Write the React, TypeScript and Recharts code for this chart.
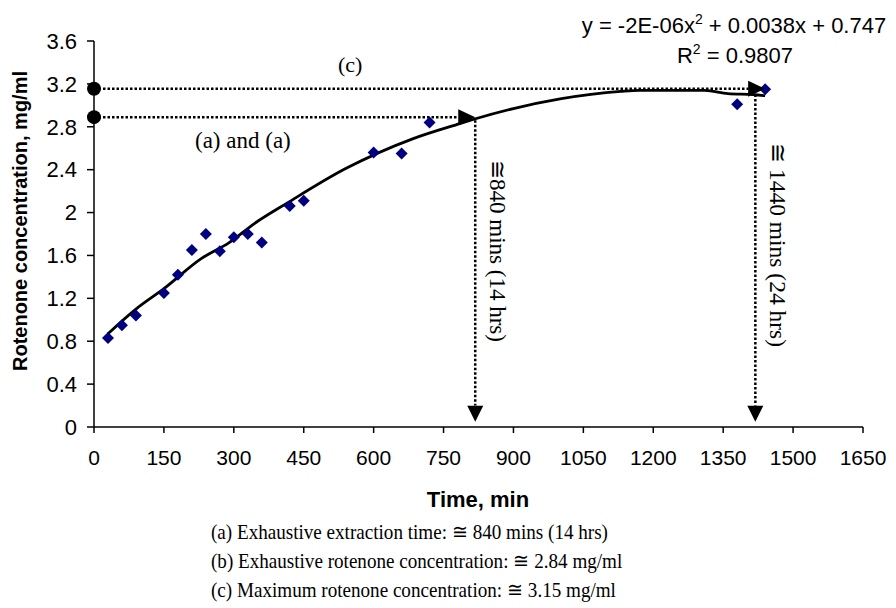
import { ComposedChart, XAxis, YAxis, Scatter, Line, ReferenceLine, ReferenceDot } from "recharts";

// measured points (time in min, rotenone in mg/ml)
const times = [30, 60, 90, 150, 180, 210, 240, 270, 300, 330, 360, 420, 450, 600, 660, 720, 1380, 1440];
const conc = [0.83, 0.95, 1.04, 1.25, 1.42, 1.65, 1.8, 1.64, 1.77, 1.8, 1.72, 2.06, 2.11, 2.56, 2.55, 2.84, 3.01, 3.15];

// polynomial trendline as drawn on the figure
const trendTimes = [30, 90, 150, 230, 290, 345, 415, 540, 685, 785, 815, 900, 1000, 1130, 1170, 1310, 1360, 1415, 1440];
const trendConc = [0.87, 1.1, 1.29, 1.57, 1.72, 1.9, 2.09, 2.41, 2.69, 2.83, 2.87, 2.97, 3.06, 3.13, 3.14, 3.14, 3.11, 3.1, 3.09];

const xTicks = [0, 150, 300, 450, 600, 750, 900, 1050, 1200, 1350, 1500, 1650];
const yTicks = [0, 0.4, 0.8, 1.2, 1.6, 2, 2.4, 2.8, 3.2, 3.6];

// annotation levels
const maxConc = 3.155;
const exhConc = 2.89;
const exhTime = 818;
const maxTime = 1419;
const maxArrowTip = 1440;

const notes = [
  "(a) Exhaustive extraction time: \u2245 840 mins (14 hrs)",
  "(b) Exhaustive rotenone concentration: \u2245 2.84 mg/ml",
  "(c) Maximum rotenone concentration: \u2245 3.15 mg/ml",
];

const SANS = "'Liberation Sans', Arial, sans-serif";
const SERIF = "'Liberation Serif', 'Times New Roman', serif";

const points = times.map((t, i) => ({ t, v: conc[i] }));
const trend = trendTimes.map((t, i) => ({ t, v: trendConc[i] }));

const Diamond = (p: any) => {
  const { cx, cy } = p;
  return <path d={`M${cx},${cy - 6}L${cx + 6},${cy}L${cx},${cy + 6}L${cx - 6},${cy}Z`} fill="#000080" />;
};

const ArrowRight = (p: any) => {
  const { cx, cy } = p;
  return <path d={`M${cx},${cy}L${cx - 17},${cy - 8}L${cx - 17},${cy + 8}Z`} fill="#000" />;
};

const ArrowDown = (p: any) => {
  const { cx, cy } = p;
  return <path d={`M${cx},${cy}L${cx - 8},${cy - 16}L${cx + 8},${cy - 16}Z`} fill="#000" />;
};

const dotted = { stroke: "#000", strokeWidth: 2.5, strokeDasharray: "2.5 2" };

export default function App() {
  return (
    <div style={{ position: "absolute", left: 0, top: 0, width: 896, height: 608, background: "#fff" }}>
      <ComposedChart width={896} height={608} margin={{ top: 41, right: 33, bottom: 141, left: 30 }}>
        <XAxis
          type="number" dataKey="t" domain={[0, 1650]} ticks={xTicks} height={40}
          axisLine={{ stroke: "#000", strokeWidth: 1.5 }} tickLine={{ stroke: "#000", strokeWidth: 1.5 }}
          tickSize={6} tickMargin={17}
          tick={{ fill: "#000", fontSize: 21, fontFamily: SANS }}
        />
        <YAxis
          type="number" dataKey="v" domain={[0, 3.6]} ticks={yTicks} width={64}
          axisLine={{ stroke: "#000", strokeWidth: 1.5 }} tickLine={{ stroke: "#000", strokeWidth: 1.5 }}
          tickSize={7} tickMargin={10}
          tick={{ fill: "#000", fontSize: 22, fontFamily: SANS }}
        />
        <Line data={trend} dataKey="v" type="monotone" stroke="#000" strokeWidth={2.8} dot={false} isAnimationActive={false} />
        <Scatter data={points} dataKey="v" shape={Diamond} isAnimationActive={false} />

        <ReferenceLine segment={[{ x: 0, y: maxConc }, { x: maxArrowTip - 36, y: maxConc }]} {...dotted} />
        <ReferenceLine segment={[{ x: 0, y: exhConc }, { x: exhTime - 36, y: exhConc }]} {...dotted} />
        <ReferenceLine segment={[{ x: exhTime, y: 2.86 }, { x: exhTime, y: 0.2 }]} {...dotted} />
        <ReferenceLine segment={[{ x: maxTime, y: 3.1 }, { x: maxTime, y: 0.2 }]} {...dotted} />

        <ReferenceDot x={maxArrowTip} y={maxConc} shape={ArrowRight} />
        <ReferenceDot x={exhTime} y={exhConc} shape={ArrowRight} />
        <ReferenceDot x={exhTime} y={0.05} shape={ArrowDown} />
        <ReferenceDot x={maxTime} y={0.05} shape={ArrowDown} />
        <ReferenceDot x={0} y={maxConc} r={7} fill="#000" stroke="none" ifOverflow="visible" />
        <ReferenceDot x={0} y={exhConc} r={7} fill="#000" stroke="none" ifOverflow="visible" />
      </ComposedChart>

      <svg width={896} height={608} style={{ position: "absolute", left: 0, top: 0, pointerEvents: "none" }}>
        <text x={734} y={33} textAnchor="middle" fontFamily={SANS} fontSize={22}>
          y = -2E-06x<tspan dy={-9} fontSize={14}>2</tspan>
          <tspan dy={9}> + 0.0038x + 0.747</tspan>
        </text>
        <text x={735} y={63} textAnchor="middle" fontFamily={SANS} fontSize={22}>
          R<tspan dy={-9} fontSize={14}>2</tspan>
          <tspan dy={9}> = 0.9807</tspan>
        </text>

        <text x={338} y={72} fontFamily={SERIF} fontSize={22}>(c)</text>
        <text x={195} y={148} fontFamily={SERIF} fontSize={23}>(a) and (a)</text>

        <text transform="translate(490,160) rotate(90)" fontFamily={SERIF} fontSize={23}>{"\u2245840 mins (14 hrs)"}</text>
        <text transform="translate(770,143) rotate(90)" fontFamily={SERIF} fontSize={23.5}>{"\u2245 1440 mins (24 hrs)"}</text>

        <text x={478} y={507} textAnchor="middle" fontFamily={SANS} fontSize={22} fontWeight="bold">Time, min</text>
        <text transform="translate(27,221) rotate(-90)" textAnchor="middle" fontFamily={SANS} fontSize={20} fontWeight="bold">
          Rotenone concentration, mg/ml
        </text>

        {notes.map((n, i) => (
          <text key={i} transform={`translate(211,${539 + i * 29}) scale(0.91,1)`} fontFamily={SERIF} fontSize={21}>{n}</text>
        ))}
      </svg>
    </div>
  );
}
